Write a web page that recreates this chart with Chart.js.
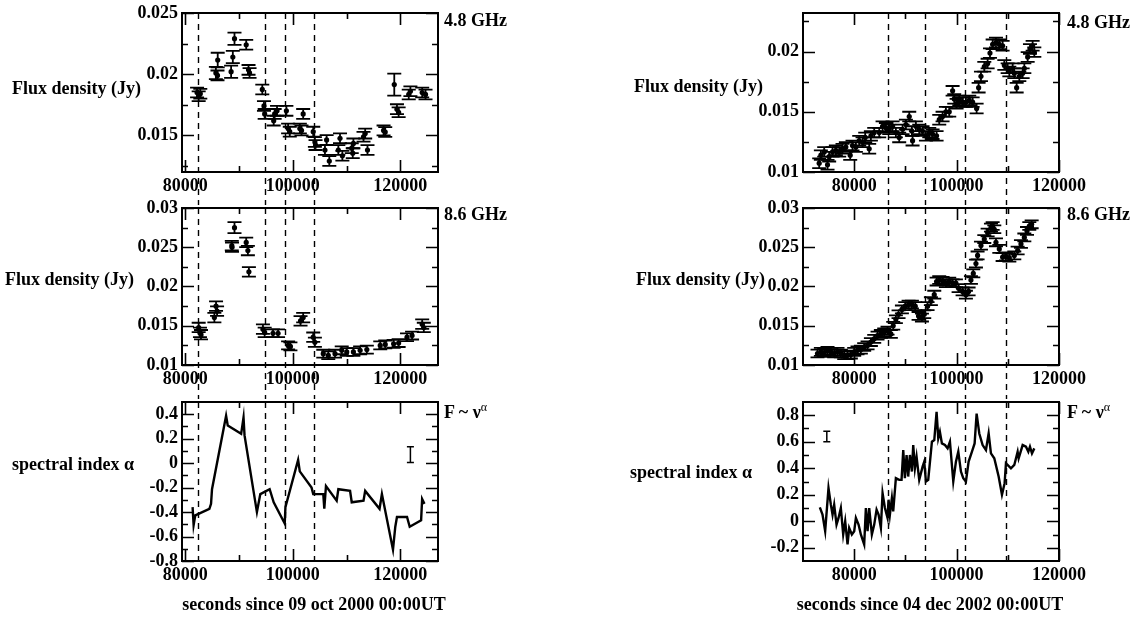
<!DOCTYPE html>
<html>
<head>
<meta charset="utf-8">
<script src="https://cdn.jsdelivr.net/npm/chart.js@4.4.1/dist/chart.umd.min.js"></script>
<style>
  body { margin: 0; background: #fff; width: 1142px; height: 619px; position: relative; overflow: hidden;
         font-family: 'Liberation Serif', 'Times New Roman', serif; font-weight: bold; color: #000; }
  canvas { position: absolute; }
  .lbl { position: absolute; font-size: 18px; line-height: 20px; white-space: nowrap; }
  .lbl sup { font-size: 12px; font-weight: normal; vertical-align: 7px; line-height: 0; }
</style>
</head>
<body>
<canvas id="c48a" width="400" height="212" style="left:100px;top:0px"></canvas>
<canvas id="c86a" width="400" height="210" style="left:100px;top:195px"></canvas>
<canvas id="cAlA" width="400" height="212" style="left:100px;top:389px"></canvas>
<canvas id="c48b" width="400" height="212" style="left:720px;top:0px"></canvas>
<canvas id="c86b" width="400" height="210" style="left:720px;top:195px"></canvas>
<canvas id="cAlB" width="400" height="212" style="left:720px;top:389px"></canvas>

<div class="lbl" style="left:12px;top:78px">Flux density (Jy)</div>
<div class="lbl" style="left:5px;top:269px">Flux density (Jy)</div>
<div class="lbl" style="left:12px;top:454px">spectral index &alpha;</div>
<div class="lbl" style="left:634px;top:76px">Flux density (Jy)</div>
<div class="lbl" style="left:636px;top:269px">Flux density (Jy)</div>
<div class="lbl" style="left:630px;top:462px">spectral index &alpha;</div>

<div class="lbl" style="left:444px;top:10px">4.8 GHz</div>
<div class="lbl" style="left:444px;top:204px">8.6 GHz</div>
<div class="lbl" style="left:444px;top:402px">F ~ &nu;<sup>&alpha;</sup></div>
<div class="lbl" style="left:1067px;top:12px">4.8 GHz</div>
<div class="lbl" style="left:1067px;top:204px">8.6 GHz</div>
<div class="lbl" style="left:1067px;top:402px">F ~ &nu;<sup>&alpha;</sup></div>

<div class="lbl" style="left:164px;width:300px;text-align:center;top:594px">seconds since 09 oct 2000 00:00UT</div>
<div class="lbl" style="left:780px;width:300px;text-align:center;top:594px">seconds since 04 dec 2002 00:00UT</div>

<script>
    // ---- 09 oct 2000 ----
    const t48a = [82200, 82500, 82800, 85700, 86000, 86040, 88530, 88850, 89160, 91340, 91770, 91960,
                  94330, 94640, 94770, 96450, 96630, 97070, 98810, 99130, 99440, 101310, 101620, 101930,
                  103800, 104110, 104230, 105980, 106290, 106790, 108470, 108780, 109220, 110960, 111150, 111270,
                  113150, 113460, 113890, 116880, 117190, 118870, 119370, 119680, 121560, 121870, 124060, 124680];
    const f48a = [0.0185, 0.0182, 0.0184, 0.0201, 0.0199, 0.02115, 0.0202, 0.0214, 0.0229, 0.0224, 0.02035, 0.0201,
                  0.01875, 0.0174, 0.01675, 0.0162, 0.01675, 0.0170, 0.0170, 0.01555, 0.0153, 0.01555, 0.0154, 0.01675,
                  0.0153, 0.01445, 0.0142, 0.0138, 0.01462, 0.0129, 0.0138, 0.01475, 0.01333, 0.01395, 0.01354, 0.01434,
                  0.01488, 0.01514, 0.0138, 0.0154, 0.01527, 0.01915, 0.01714, 0.01688, 0.01834, 0.0186, 0.0185, 0.01834];
    const e48a = [0.0004, 0.0004, 0.0004, 0.0005, 0.0004, 0.0006, 0.0005, 0.0005, 0.0005, 0.0004, 0.0004, 0.0004,
                  0.0004, 0.0004, 0.0004, 0.0004, 0.0004, 0.0004, 0.0004, 0.0004, 0.0004, 0.0004, 0.0004, 0.0004,
                  0.0004, 0.0004, 0.0004, 0.0004, 0.0004, 0.0004, 0.0004, 0.0004, 0.0004, 0.0004, 0.0004, 0.0004,
                  0.0004, 0.0004, 0.0004, 0.0004, 0.0004, 0.0009, 0.0004, 0.0004, 0.0004, 0.0004, 0.0004, 0.0004];

    const t86a = [82500, 82740, 82930, 85420, 85730, 85920, 88660, 88700, 89160, 91340, 91650, 91840,
                  94450, 94770, 96320, 97260, 99130, 99560, 101440, 101930, 103800, 104110, 105670, 106600, 107850,
                  109100, 110030, 111270, 112520, 113770, 116260, 117190, 118750, 119680, 121240, 122180, 124060, 124360];
    const f86a = [0.01478, 0.01415, 0.01386, 0.01604, 0.0175, 0.01687, 0.0252, 0.0250, 0.0275, 0.02562, 0.02458, 0.02187,
                  0.01457, 0.01415, 0.01404, 0.01404, 0.0125, 0.01237, 0.01562, 0.01604, 0.01354, 0.0129, 0.01144, 0.01124, 0.01144,
                  0.01187, 0.01166, 0.01166, 0.01187, 0.01196, 0.0125, 0.01262, 0.0127, 0.01279, 0.01354, 0.01375, 0.0152, 0.01478];
    const e86a = [0.0006, 0.0006, 0.0006, 0.0006, 0.0006, 0.0006, 0.0006, 0.0006, 0.0007, 0.0006, 0.0006, 0.0006,
                  0.0006, 0.0006, 0.0005, 0.0005, 0.0005, 0.0005, 0.0006, 0.0006, 0.0006, 0.0006, 0.0005, 0.0005, 0.0005,
                  0.0005, 0.0005, 0.0005, 0.0005, 0.0005, 0.0005, 0.0005, 0.0005, 0.0005, 0.0005, 0.0005, 0.0006, 0.0006];

    const tAlphaA = [81370, 81560, 81870, 84490, 84800, 84980, 87600, 87910, 90400, 90840, 91030, 93330, 93960,
                     95700, 96450, 98500, 98630, 100990, 101300, 103490, 103800, 105670, 105860, 106170, 108160, 108470,
                     110650, 110960, 113150, 113460, 116130, 116570, 118630, 119060, 119370, 121240, 121740, 123860, 124050, 124480];
    const alphaA = [-0.36, -0.507, -0.427, -0.373, -0.333, -0.213, 0.387, 0.307, 0.24, 0.373, 0.227, -0.4, -0.253,
                    -0.213, -0.32, -0.493, -0.36, 0.027, -0.067, -0.2, -0.253, -0.253, -0.373, -0.187, -0.307, -0.213,
                    -0.227, -0.32, -0.307, -0.227, -0.373, -0.253, -0.707, -0.52, -0.44, -0.44, -0.52, -0.467, -0.293, -0.333];
    const alphaErrA = { t: 121870, v: 0.07, e: 0.065 };
    const flaresA = [82300, 94770, 98620, 103990];

    // ---- 04 dec 2002 ----
    const t48b = [73160, 73490, 74140, 74790, 75110, 75770, 76420, 77070, 77720, 78370,
                  79220, 79670, 80330, 80980, 81630, 82150, 82930, 83260, 83910, 84890,
                  85540, 86190, 86840, 87490, 88140, 88790, 89450, 90100, 90750, 91270,
                  91400, 92050, 92700, 93350, 94010, 94660, 95310, 96090, 96610, 97260,
                  97910, 98560, 99220, 99540, 100000, 100520, 101170, 101820, 102470, 103130,
                  103910, 104300, 104760, 105410, 106060, 106520, 107040, 107690, 108340, 108990,
                  109320, 109970, 110300, 110950, 111270, 111730, 112250, 112900, 113230, 113880,
                  114330, 114850, 115180];
    const f48b = [0.01073, 0.0114, 0.01167, 0.0106, 0.01127, 0.01167, 0.0118, 0.01167, 0.01193, 0.01207,
                  0.0114, 0.0122, 0.01207, 0.0126, 0.01247, 0.01287, 0.01193, 0.013, 0.01327, 0.01327,
                  0.0138, 0.01367, 0.01354, 0.0138, 0.01327, 0.01287, 0.01354, 0.01394, 0.0146, 0.0134,
                  0.0126, 0.0138, 0.01354, 0.0134, 0.013, 0.01327, 0.01314, 0.013, 0.01434, 0.0146,
                  0.015, 0.015, 0.01674, 0.01607, 0.01567, 0.01594, 0.0158, 0.0158, 0.01594, 0.0158,
                  0.01527, 0.0170, 0.01794, 0.01874, 0.019, 0.01987, 0.0206, 0.02075, 0.0206, 0.02048,
                  0.01888, 0.01861, 0.01834, 0.01861, 0.0182, 0.017, 0.01794, 0.0182, 0.01861, 0.01955,
                  0.02021, 0.02048, 0.01995];
    const e48b = 0.0004;

    const t86b = [72830, 73490, 74140, 74790, 75440, 76090, 76740, 77390, 78050, 78700,
                  79350, 80000, 80650, 81300, 81950, 82610, 83260, 83910, 84560, 85210,
                  85860, 86510, 87160, 87620, 88140, 88660, 89320, 89970, 90620, 91270,
                  91920, 92570, 93230, 93680, 94330, 94980, 95640, 96090, 96610, 97260,
                  97910, 98560, 99220, 99870, 100390, 101170, 101820, 102340, 102800, 103260,
                  103780, 104100, 104760, 105410, 106060, 106710, 107040, 107360, 107690, 108340,
                  108990, 109640, 110300, 111270, 111920, 112570, 113230, 113750, 114200, 114660];
    const f86b = [0.01146, 0.01167, 0.01154, 0.01179, 0.01167, 0.01146, 0.01167, 0.01146, 0.01125, 0.01125,
                  0.01133, 0.01167, 0.01187, 0.01196, 0.01229, 0.0125, 0.01292, 0.01333, 0.01375, 0.01396,
                  0.01417, 0.01437, 0.01396, 0.0150, 0.01583, 0.01646, 0.01708, 0.0175, 0.01771, 0.01771,
                  0.0175, 0.01625, 0.01604, 0.01646, 0.0175, 0.01813, 0.01896, 0.02063, 0.02083, 0.02071,
                  0.02042, 0.02063, 0.02042, 0.02042, 0.01979, 0.01937, 0.01896, 0.01937, 0.02083, 0.02167,
                  0.02292, 0.02396, 0.02521, 0.02604, 0.02688, 0.0275, 0.02771, 0.02729, 0.02563, 0.02479,
                  0.02375, 0.02383, 0.02367, 0.02396, 0.02458, 0.02542, 0.02625, 0.02708, 0.02771, 0.02792];
    const e86b = 0.0005;

    const tAlphaB = [73290, 73810, 74330, 74980, 75440, 75770, 76090, 76550, 76940, 77390,
                     77850, 78240, 78700, 79020, 79540, 80000, 80330, 80850, 81300, 81950,
                     82280, 82610, 82930, 83450, 83910, 84370, 84760, 85210, 85540, 86000,
                     86510, 86710, 86970, 87360, 87620, 88140, 88790, 89250, 89580, 89900,
                     90230, 90550, 90880, 91270, 91530, 91860, 92180, 92700, 93360, 93680,
                     94010, 94460, 95180, 95640, 96090, 96420, 96740, 97130, 97720, 98240,
                     98700, 99350, 99870, 100330, 100850, 101300, 101820, 102350, 103000, 103520,
                     103910, 104430, 105080, 105730, 106260, 106710, 107360, 108210, 108860, 109380,
                     109640, 110620, 111270, 111920, 112120, 112900, 113550, 114010, 114330, 114720,
                     115180];
    const alphaB = [0.105, 0.05, -0.075, 0.25, 0.125, 0.05, 0.125, -0.025, 0.025, 0.1,
                    -0.1, 0, -0.175, -0.05, -0.1, -0.075, 0.025, -0.025, -0.1, -0.175,
                    0.1, -0.075, 0.1, -0.1, -0.025, 0.0875, 0.05, -0.05, 0.2125, 0.1,
                    0.025, 0.1625, 0.05, 0.175, 0.075, 0.325, 0.3125, 0.3125, 0.5375, 0.325,
                    0.5, 0.3375, 0.5, 0.375, 0.575, 0.4, 0.4875, 0.3125, 0.4125, 0.45,
                    0.3, 0.3125, 0.6, 0.6125, 0.825, 0.625, 0.675, 0.5875, 0.575, 0.55,
                    0.6, 0.3, 0.45, 0.525, 0.375, 0.325, 0.3, 0.45, 0.525, 0.5875,
                    0.8125, 0.6625, 0.575, 0.5375, 0.6625, 0.5125, 0.475, 0.3375, 0.2, 0.2875,
                    0.4375, 0.4, 0.425, 0.525, 0.475, 0.575, 0.5625, 0.525, 0.5625, 0.5125,
                    0.55];
    const alphaErrB = { t: 74650, v: 0.64, e: 0.04 };
    const flaresB = [86520, 93770, 101670, 109690];

    // ---- axes ----
    const xMajorA = [80000, 100000, 120000], xMinorA = [90000, 110000];
    const xMajorB = [80000, 100000, 120000], xMinorB = [90000, 110000];
    const y48aMajor = [0.015, 0.02, 0.025], y48aMinor = [0.0125, 0.0175, 0.0225];
    const y48bMajor = [0.01, 0.015, 0.02], y48bMinor = [0.0125, 0.0175, 0.0225];
    const y86Major = [0.01, 0.015, 0.02, 0.025, 0.03], y86Minor = [0.0125, 0.0175, 0.0225, 0.0275];
    const yAlAMajor = [-0.8, -0.6, -0.4, -0.2, 0, 0.2, 0.4], yAlAMinor = [-0.7, -0.5, -0.3, -0.1, 0.1, 0.3];
    const yAlBMajor = [-0.2, 0, 0.2, 0.4, 0.6, 0.8], yAlBMinor = [-0.1, 0.1, 0.3, 0.5, 0.7];

    const FONT = { family: "'Liberation Serif', 'Times New Roman', serif", size: 18, weight: 'bold', lineHeight: 1 };

    const pts = (xs, ys) => xs.map((x, i) => ({ x: x, y: ys[i] }));

    // error bars with caps
    const errorBars = {
        id: 'errorBars',
        afterDatasetsDraw(chart) {
            const { ctx, scales: { x, y } } = chart;
            ctx.save();
            ctx.strokeStyle = '#000';
            chart.data.datasets.forEach(ds => {
                if (ds.err == null) return;
                const cap = ds.capHalf || 7;
                ctx.lineWidth = ds.errWidth || 1.8;
                ds.data.forEach((p, i) => {
                    const e = Array.isArray(ds.err) ? ds.err[i] : ds.err;
                    const px = x.getPixelForValue(p.x);
                    const y0 = y.getPixelForValue(p.y - e), y1 = y.getPixelForValue(p.y + e);
                    ctx.beginPath();
                    ctx.moveTo(px, y0); ctx.lineTo(px, y1);
                    ctx.moveTo(px - cap, y0); ctx.lineTo(px + cap, y0);
                    ctx.moveTo(px - cap, y1); ctx.lineTo(px + cap, y1);
                    ctx.stroke();
                });
            });
            ctx.restore();
        }
    };

    // box frame, inward ticks, dashed flare lines
    const frame = {
        id: 'frame',
        afterDraw(chart, args, o) {
            const { ctx, chartArea: a, scales: { x, y } } = chart;
            ctx.save();
            ctx.strokeStyle = '#000';
            ctx.lineWidth = 1.6;
            const vt = (vals, len) => vals.forEach(v => {
                const px = Math.round(x.getPixelForValue(v)) + 0.5;
                ctx.beginPath();
                ctx.moveTo(px, a.bottom); ctx.lineTo(px, a.bottom - len);
                ctx.moveTo(px, a.top); ctx.lineTo(px, a.top + len);
                ctx.stroke();
            });
            const ht = (vals, len) => vals.forEach(v => {
                const py = Math.round(y.getPixelForValue(v)) + 0.5;
                ctx.beginPath();
                ctx.moveTo(a.left, py); ctx.lineTo(a.left + len, py);
                ctx.moveTo(a.right, py); ctx.lineTo(a.right - len, py);
                ctx.stroke();
            });
            vt(o.xMajor, 12); vt(o.xMinor, 6);
            ht(o.yMajor, 12); ht(o.yMinor, 6);

            ctx.setLineDash([6, 5]);
            ctx.lineWidth = 1.4;
            o.flares.forEach(v => {
                const px = Math.round(x.getPixelForValue(v)) + 0.5;
                ctx.beginPath();
                ctx.moveTo(px, a.top); ctx.lineTo(px, a.bottom + o.below);
                ctx.stroke();
            });
            ctx.setLineDash([]);
            ctx.lineWidth = 2;
            ctx.strokeRect(a.left, a.top, a.right - a.left, a.bottom - a.top);
            ctx.restore();
        }
    };

    function renderPanel(id, cfg) {
        const ctx = document.getElementById(id).getContext('2d');
        return new Chart(ctx, {
            type: 'scatter',
            data: { datasets: cfg.datasets },
            options: {
                responsive: false, animation: false, devicePixelRatio: 1,
                layout: { padding: { top: cfg.padTop, right: cfg.padRight, bottom: 10, left: 0 } },
                plugins: { legend: { display: false }, tooltip: { enabled: false }, frame: cfg.frame },
                scales: {
                    x: {
                        type: 'linear', min: cfg.xMin, max: cfg.xMax,
                        grid: { display: false, drawTicks: false }, border: { display: false },
                        afterBuildTicks: s => { s.ticks = cfg.frame.xMajor.map(v => ({ value: v })); },
                        afterFit: s => { s.height = 30; },
                        ticks: { color: '#000', font: FONT, padding: 5, maxRotation: 0, autoSkip: false, callback: v => String(v) }
                    },
                    y: {
                        type: 'linear', min: cfg.yMin, max: cfg.yMax,
                        grid: { display: false, drawTicks: false }, border: { display: false },
                        afterBuildTicks: s => { s.ticks = cfg.frame.yMajor.map(v => ({ value: v })); },
                        afterFit: s => { s.width = cfg.yWidth; },
                        ticks: { color: '#000', font: FONT, padding: 4, callback: v => String(v) }
                    }
                }
            },
            plugins: [errorBars, frame]
        });
    }

    const fluxSet = (xs, ys, err) => ({
        data: pts(xs, ys), err: err, showLine: false,
        pointRadius: 2.6, pointBackgroundColor: '#000', pointBorderWidth: 0
    });
    const alphaSet = (xs, ys) => ({
        data: pts(xs, ys), showLine: true, borderColor: '#000', borderWidth: 2.4,
        pointRadius: 0, tension: 0
    });
    const alphaErrSet = (o) => ({
        data: [{ x: o.t, y: o.v }], err: o.e, capHalf: 3.5, errWidth: 1.5, pointRadius: 0, showLine: false
    });

    document.addEventListener('DOMContentLoaded', () => {
        const colA = { xMin: 79400, xMax: 127000, yWidth: 82, padRight: 62 };
        const colB = { xMin: 70000, xMax: 120000, yWidth: 83, padRight: 61 };

        renderPanel('c48a', Object.assign({}, colA, {
            yMin: 0.012, yMax: 0.025, padTop: 9,
            datasets: [fluxSet(t48a, f48a, e48a)],
            frame: { xMajor: xMajorA, xMinor: xMinorA, yMajor: y48aMajor, yMinor: y48aMinor, flares: flaresA, below: 33 }
        }));
        renderPanel('c86a', Object.assign({}, colA, {
            yMin: 0.01, yMax: 0.03, padTop: 10,
            datasets: [fluxSet(t86a, f86a, e86a)],
            frame: { xMajor: xMajorA, xMinor: xMinorA, yMajor: y86Major, yMinor: y86Minor, flares: flaresA, below: 34 }
        }));
        renderPanel('cAlA', Object.assign({}, colA, {
            yMin: -0.8, yMax: 0.5, padTop: 10,
            datasets: [alphaSet(tAlphaA, alphaA), alphaErrSet(alphaErrA)],
            frame: { xMajor: xMajorA, xMinor: xMinorA, yMajor: yAlAMajor, yMinor: yAlAMinor, flares: flaresA, below: 0 }
        }));
        renderPanel('c48b', Object.assign({}, colB, {
            yMin: 0.01, yMax: 0.0232, padTop: 9,
            datasets: [fluxSet(t48b, f48b, e48b)],
            frame: { xMajor: xMajorB, xMinor: xMinorB, yMajor: y48bMajor, yMinor: y48bMinor, flares: flaresB, below: 33 }
        }));
        renderPanel('c86b', Object.assign({}, colB, {
            yMin: 0.01, yMax: 0.03, padTop: 10,
            datasets: [fluxSet(t86b, f86b, e86b)],
            frame: { xMajor: xMajorB, xMinor: xMinorB, yMajor: y86Major, yMinor: y86Minor, flares: flaresB, below: 34 }
        }));
        renderPanel('cAlB', Object.assign({}, colB, {
            yMin: -0.3, yMax: 0.9, padTop: 10,
            datasets: [alphaSet(tAlphaB, alphaB), alphaErrSet(alphaErrB)],
            frame: { xMajor: xMajorB, xMinor: xMinorB, yMajor: yAlBMajor, yMinor: yAlBMinor, flares: flaresB, below: 0 }
        }));
    });
</script>
</body>
</html>
